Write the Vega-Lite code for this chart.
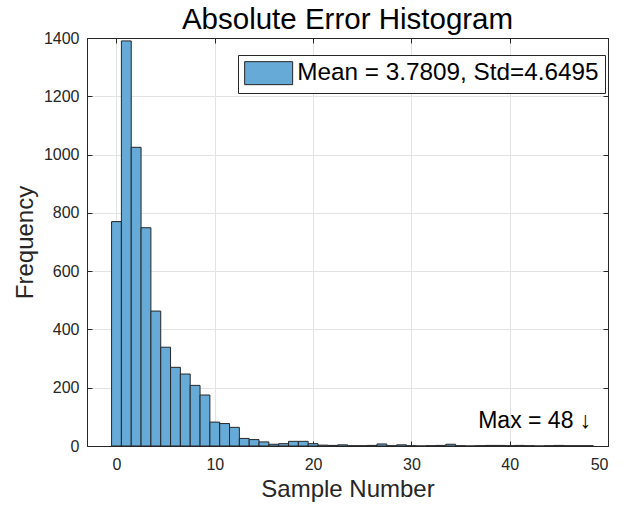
{
  "$schema": "https://vega.github.io/schema/vega-lite/v6.json",
  "width": 521,
  "height": 408,
  "autosize": "none",
  "padding": {"left": 87, "top": 38, "right": 19, "bottom": 64},
  "background": "white",
  "title": {
    "text": "Absolute Error Histogram",
    "fontSize": 29.5,
    "font": "Liberation Sans",
    "fontWeight": "normal",
    "color": "#000000",
    "anchor": "middle",
    "offset": 8,
    "dy": 36,
    "baseline": "alphabetic"
  },
  "config": {
    "view": {"stroke": null},
    "axis": {
      "domainColor": "#262626",
      "domainWidth": 1,
      "tickColor": "#262626",
      "tickSize": -5,
      "labelColor": "#262626",
      "labelFont": "Liberation Sans",
      "labelFontSize": 16,
      "titleFont": "Liberation Sans",
      "titleFontSize": 24,
      "titleFontWeight": "normal",
      "titleColor": "#262626",
      "gridColor": "#e3e3e3",
      "gridWidth": 1
    }
  },
  "layer": [
    {
      "data": {
        "values": [
          {"start": -0.5, "end": 0.5, "count": 770},
          {"start": 0.5, "end": 1.5, "count": 1390},
          {"start": 1.5, "end": 2.5, "count": 1025},
          {"start": 2.5, "end": 3.5, "count": 749},
          {"start": 3.5, "end": 4.5, "count": 463},
          {"start": 4.5, "end": 5.5, "count": 339},
          {"start": 5.5, "end": 6.5, "count": 270},
          {"start": 6.5, "end": 7.5, "count": 247},
          {"start": 7.5, "end": 8.5, "count": 208},
          {"start": 8.5, "end": 9.5, "count": 175},
          {"start": 9.5, "end": 10.5, "count": 82},
          {"start": 10.5, "end": 11.5, "count": 77},
          {"start": 11.5, "end": 12.5, "count": 64},
          {"start": 12.5, "end": 13.5, "count": 26},
          {"start": 13.5, "end": 14.5, "count": 22},
          {"start": 14.5, "end": 15.5, "count": 14},
          {"start": 15.5, "end": 16.5, "count": 6},
          {"start": 16.5, "end": 17.5, "count": 8},
          {"start": 17.5, "end": 18.5, "count": 16},
          {"start": 18.5, "end": 19.5, "count": 16},
          {"start": 19.5, "end": 20.5, "count": 8},
          {"start": 20.5, "end": 21.5, "count": 3},
          {"start": 21.5, "end": 22.5, "count": 2},
          {"start": 22.5, "end": 23.5, "count": 4},
          {"start": 23.5, "end": 24.5, "count": 1},
          {"start": 24.5, "end": 25.5, "count": 1},
          {"start": 25.5, "end": 26.5, "count": 2},
          {"start": 26.5, "end": 27.5, "count": 7},
          {"start": 27.5, "end": 28.5, "count": 1},
          {"start": 28.5, "end": 29.5, "count": 4},
          {"start": 29.5, "end": 30.5, "count": 1},
          {"start": 30.5, "end": 31.5, "count": 0},
          {"start": 31.5, "end": 32.5, "count": 1},
          {"start": 32.5, "end": 33.5, "count": 2},
          {"start": 33.5, "end": 34.5, "count": 6},
          {"start": 34.5, "end": 35.5, "count": 1},
          {"start": 35.5, "end": 36.5, "count": 0},
          {"start": 36.5, "end": 37.5, "count": 1},
          {"start": 37.5, "end": 38.5, "count": 2},
          {"start": 38.5, "end": 39.5, "count": 2},
          {"start": 39.5, "end": 40.5, "count": 1},
          {"start": 40.5, "end": 41.5, "count": 2},
          {"start": 41.5, "end": 42.5, "count": 1},
          {"start": 42.5, "end": 43.5, "count": 0},
          {"start": 43.5, "end": 44.5, "count": 1},
          {"start": 44.5, "end": 45.5, "count": 2},
          {"start": 45.5, "end": 46.5, "count": 1},
          {"start": 46.5, "end": 47.5, "count": 1},
          {"start": 47.5, "end": 48.5, "count": 1}
        ]
      },
      "mark": {"type": "bar", "stroke": "#262626", "strokeWidth": 1, "opacity": 1},
      "encoding": {
        "x": {
          "field": "start",
          "type": "quantitative",
          "scale": {"domain": [-3, 50], "nice": false, "zero": false},
          "axis": {"values": [0, 10, 20, 30, 40, 50], "format": "d", "title": "Sample Number", "labelPadding": 15, "titlePadding": 5, "grid": true}
        },
        "x2": {"field": "end"},
        "y": {
          "field": "count",
          "type": "quantitative",
          "scale": {"domain": [0, 1400], "nice": false},
          "axis": {"values": [0, 200, 400, 600, 800, 1000, 1200, 1400], "format": "d", "title": "Frequency", "labelPadding": 13, "titlePadding": 6, "grid": true}
        },
        "y2": {"datum": 0},
        "color": {
          "datum": "Mean = 3.7809, Std=4.6495",
          "type": "nominal",
          "scale": {"range": ["#66aad7"]},
          "legend": {
            "title": null,
            "orient": "none",
            "legendX": 151,
            "legendY": 17,
            "strokeColor": "#262626",
            "fillColor": "white",
            "padding": 6,
            "cornerRadius": 0,
            "labelFontSize": 24.3,
            "labelFont": "Liberation Sans",
            "labelColor": "#000000",
            "labelOffset": 29,
            "labelLimit": 0,
            "symbolType": "M-1,-1H3.174V1H-1Z",
            "symbolSize": 529,
            "symbolStrokeColor": "#262626",
            "symbolStrokeWidth": 1,
            "symbolOpacity": 1
          }
        }
      }
    },
    {
      "data": {"values": [{"x": 48, "y": 63, "label": "Max = 48 ↓"}]},
      "mark": {"type": "text", "align": "right", "baseline": "alphabetic", "fontSize": 23, "font": "Liberation Sans", "color": "#000000", "dx": 3},
      "encoding": {
        "x": {"field": "x", "type": "quantitative", "axis": {"orient": "top", "values": [0, 10, 20, 30, 40, 50], "labels": false, "title": null, "grid": false}},
        "y": {"field": "y", "type": "quantitative", "axis": {"orient": "right", "values": [0, 200, 400, 600, 800, 1000, 1200, 1400], "labels": false, "title": null, "grid": false}},
        "text": {"field": "label"}
      }
    }
  ],
  "resolve": {"axis": {"x": "independent", "y": "independent"}}
}
